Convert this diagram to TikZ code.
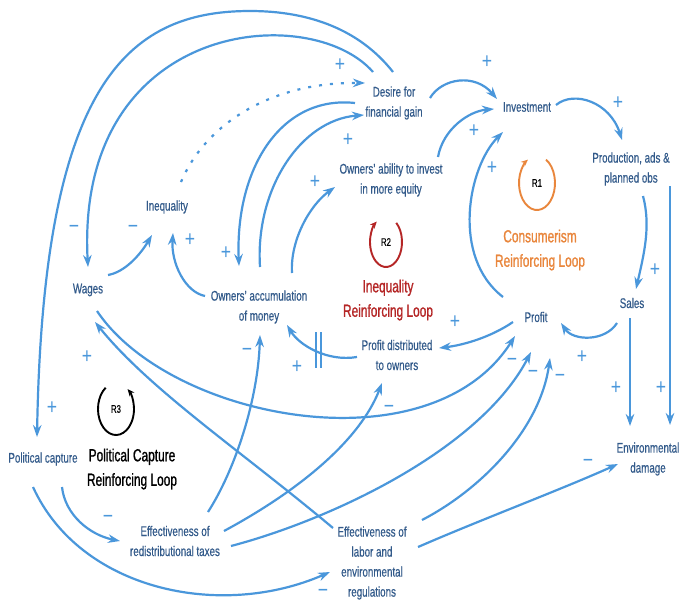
\documentclass[tikz,border=0pt]{standalone}
\usepackage{fontspec}
\setmainfont{Liberation Sans}
\newfontfamily\nfont[FakeStretch=0.7,FakeBold=0.4]{Liberation Sans}
\newfontfamily\tfont[FakeStretch=0.68,FakeBold=1.0]{Liberation Sans}
\newfontfamily\signfont[FakeStretch=0.8]{Liberation Sans}
\usetikzlibrary{arrows.meta,calc}
\definecolor{lineblue}{RGB}{74,151,219}
\definecolor{textblue}{RGB}{50,90,138}
\definecolor{orangec}{RGB}{233,134,60}
\definecolor{redc}{RGB}{181,38,38}
\begin{document}
\begin{tikzpicture}[x=1pt,y=-1pt,
  vnode/.style={font=\nfont\fontsize{14}{20}\selectfont, text=textblue, align=center, inner sep=0pt},
  ttl/.style={font=\tfont\fontsize{17.5}{24.5}\selectfont, align=center, inner sep=0pt},
  rl/.style={font=\nfont\fontsize{11}{11}\selectfont, inner sep=0pt},
  sgn/.style={font=\signfont\fontsize{22}{22}\selectfont, text=lineblue, inner sep=0pt},
  conn/.style={draw=lineblue, line width=2.2pt, -{Stealth[length=12pt,width=8.5pt]}},
  loopline/.style={line width=1.9pt, -{Stealth[length=7pt,width=6pt]}},
  delay/.style={draw=lineblue, line width=1.2pt}
]
\useasboundingbox (0,0) rectangle (679,602);
\fill[white] (0,0) rectangle (679,602);

% nodes
\node[vnode] (desire) at (394,103) {Desire for\\financial gain};
\node[vnode] (invest) at (527,107) {Investment};
\node[vnode] (prod) at (631,169) {Production, ads \&\\planned obs};
\node[vnode] (sales) at (632,303) {Sales};
\node[vnode] (env) at (648,459) {Environmental\\damage};
\node[vnode] (profit) at (536,317) {Profit};
\node[vnode] (pdist) at (397,355) {Profit distributed\\to owners};
\node[vnode] (ability) at (391,180) {Owners’ ability to invest\\in more equity};
\node[vnode] (accum) at (259,307) {Owners’ accumulation\\of money};
\node[vnode] (ineq) at (167,207) {Inequality};
\node[vnode] (wages) at (88,290) {Wages};
\node[vnode] (polcap) at (43,459) {Political capture};
\node[vnode] (taxes) at (175,541) {Effectiveness of\\redistributional taxes};
\node[vnode] (regs) at (372,563) {Effectiveness of\\labor and\\environmental\\regulations};

% connectors
\draw[conn] ($(desire)+(36,-5)$) .. controls +(12,-20) and +(-22,-26) .. ($(invest)+(-30,-8)$);
\draw[conn] ($(ability)+(47,-23)$) .. controls +(5,-28) and +(-25,2) .. ($(invest)+(-33,2)$);
\draw[conn] ($(profit)+(-33,-20)$) .. controls +(-52,-40) and +(-35,35) .. ($(invest)+(-24,25)$);
\draw[conn] ($(invest)+(29,-2)$) .. controls +(18,-15) and +(-12,-38) .. ($(prod)+(-9,-29)$);
\draw[conn] ($(prod)+(12,27)$) .. controls +(8,30) and +(8,-35) .. ($(sales)+(4,-14)$);
\draw[conn] ($(sales)+(-15,20)$) .. controls +(-12,19) and +(12,18) .. ($(profit)+(25,6)$);
\draw[conn] ($(sales)+(-2,15)$) -- ($(env)+(-18,-33)$);
\draw[conn] ($(prod)+(39,17)$) -- ($(env)+(22,-34)$);
\draw[conn] ($(profit)+(-23,5)$) .. controls +(-22,15) and +(25,-3) .. ($(pdist)+(42,-7)$);
\draw[conn] ($(pdist)+(-40,2)$) .. controls +(-30,5) and +(12,20) .. ($(accum)+(28,18)$);
\draw[conn] ($(accum)+(-54,-11)$) .. controls +(-20,-4) and +(-2,30) .. ($(ineq)+(6,26)$);
\draw[conn] ($(wages)+(20,-15)$) .. controls +(17,-3) and +(-12,20) .. ($(ineq)+(-15,28)$);
\draw[conn] ($(accum)+(33,-34)$) .. controls +(-2,-33) and +(-25,18) .. ($(ability)+(-56,7)$);
\draw[conn] ($(accum)+(1,-40)$) .. controls +(-5,-77) and +(-64,5) .. ($(desire)+(-30,12)$);
\draw[conn] ($(desire)+(-39,0)$) .. controls +(-75,-8) and +(-4,-96) .. ($(accum)+(-20,-41)$);
\draw[conn, dash pattern=on 3pt off 8pt] ($(ineq)+(14,-25)$) .. controls +(24,-57) and +(-95,-1) .. ($(desire)+(-29,-20)$);
\draw[conn] ($(desire)+(-21,-31)$) .. controls +(-63,-72) and +(-13,-247) .. ($(wages)+(0,-23)$);
\coordinate (ctop) at (250,11);
\draw[conn] ($(desire)+(-1,-31)$) .. controls +(-33,-42) and +(60,0) .. (ctop) .. controls +(-125,0) and +(6,-350) .. ($(polcap)+(-6,-22)$);
\draw[conn] ($(polcap)+(19,28)$) .. controls +(3,28) and +(-30,-6) .. ($(taxes)+(-55,0)$);
\draw[conn] ($(polcap)+(-10,28)$) .. controls +(47,103) and +(-110,48) .. ($(regs)+(-42,9)$);
\draw[conn] ($(taxes)+(33,-29)$) .. controls +(27,-42) and +(-2,65) .. ($(accum)+(1,28)$);
\draw[conn] ($(taxes)+(49,-10)$) .. controls +(76,-41) and +(-22,57) .. ($(pdist)+(-15,28)$);
\draw[conn] ($(taxes)+(56,5)$) .. controls +(99,-26) and +(-51,98) .. ($(profit)+(-5,35)$);
\draw[conn] ($(wages)+(9,21)$) .. controls +(73,109) and +(-85,134) .. ($(profit)+(-21,19)$);
\draw[conn] ($(regs)+(-39,-35)$) .. controls +(-93,-78) and +(55,68) .. ($(wages)+(7,32)$);
\draw[conn] ($(regs)+(50,-43)$) .. controls +(58,-30) and +(-10,72) .. ($(profit)+(14,41)$);
\draw[conn] ($(regs)+(46,-16)$) .. controls +(62,-27) and +(-58,26) .. ($(env)+(-30,5)$);

% delay mark
\coordinate (dm1) at (316,332);
\coordinate (dm2) at (321,332);
\draw[delay] (dm1) -- +(0,36) (dm2) -- +(0,36);

% signs
\foreach \p in {(487,62),(474,131),(492,168),(618,103),(655,270),(582,357),(616,388),(661,388),(455,322),(297,367),(190,240),(226,253),(315,182),(348,140),(340,65),(87,357),(52,408)}
  \node[sgn] at \p {+};
\foreach \p in {(74,229),(133,229),(247,352),(389,409),(512,362),(533,374),(560,378),(588,463),(108,519),(323,593)}
  \node[sgn] at \p {−};

% loops
\node[rl] (r1) at (537,183) {R1};
\draw[orangec, loopline] ($(r1)+({18*cos(60)},{-27*sin(60)})$) arc[start angle=60, end angle=-240, x radius=18pt, y radius=27pt];
\node[rl] (r2) at (386,242) {R2};
\draw[redc, loopline] ($(r2)+({16*cos(50)},{-25*sin(50)})$) arc[start angle=50, end angle=-235, x radius=16pt, y radius=25pt];
\node[rl] (r3) at (116,409) {R3};
\draw[black, loopline] ($(r3)+({18*cos(125)},{-26*sin(125)})$) arc[start angle=125, end angle=410, x radius=18pt, y radius=26pt];

\node[ttl, text=orangec] (t1) at (540,250) {Consumerism\\Reinforcing Loop};
\node[ttl, text=redc] (t2) at (388,300) {Inequality\\Reinforcing Loop};
\node[ttl, text=black] (t3) at (132,469) {Political Capture\\Reinforcing Loop};
\end{tikzpicture}
\end{document}
